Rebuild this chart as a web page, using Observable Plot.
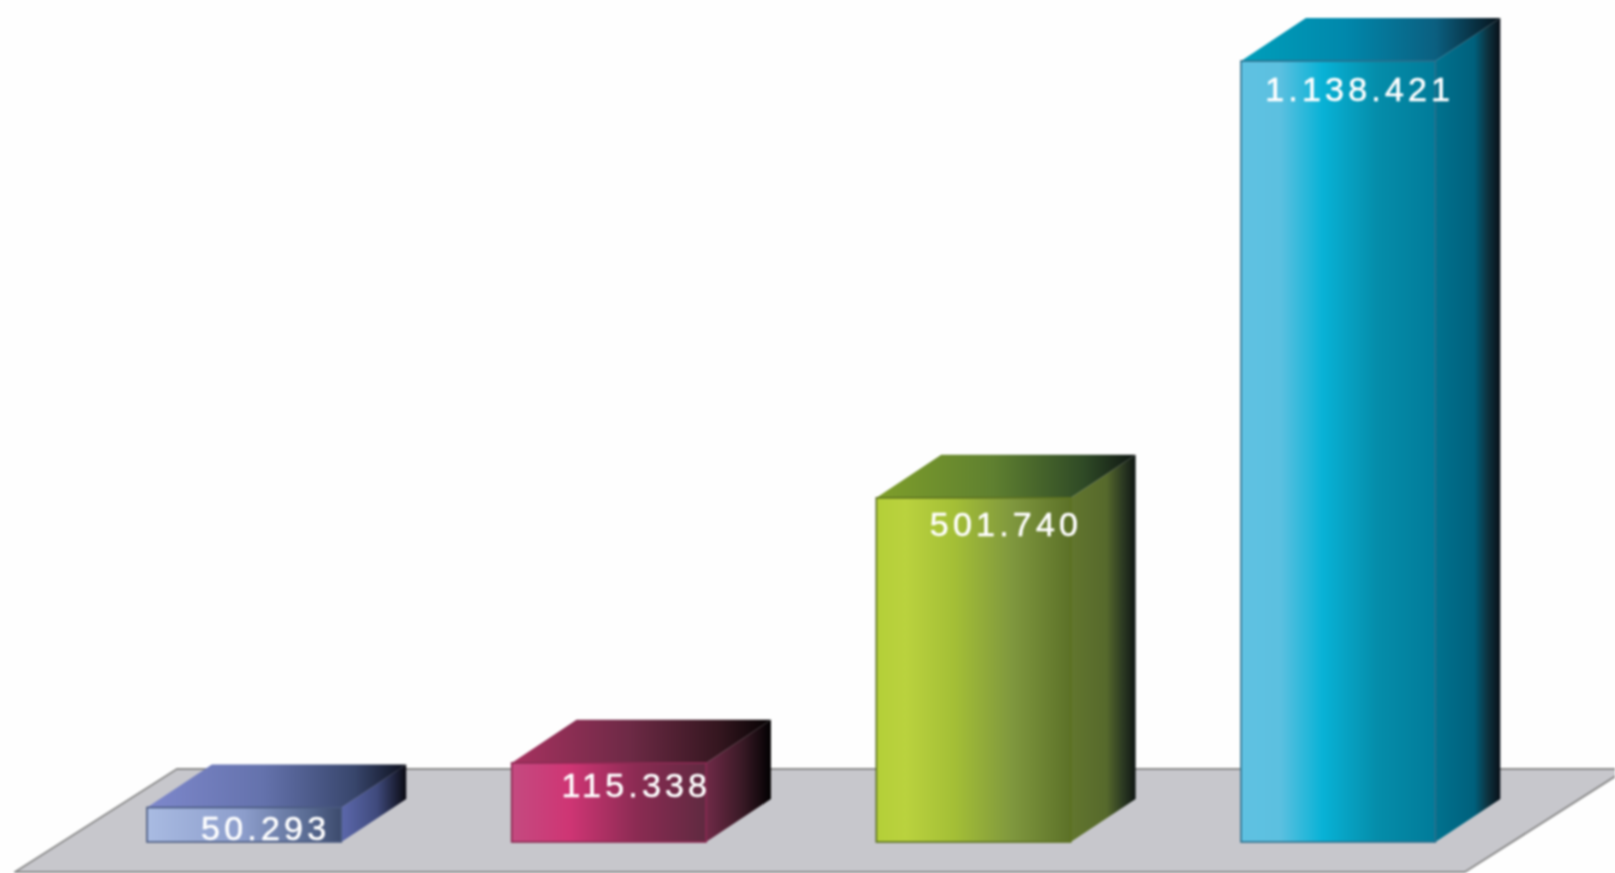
<!DOCTYPE html>
<html>
<head>
<meta charset="utf-8">
<script src="https://cdn.jsdelivr.net/npm/d3@7"></script>
<script src="https://cdn.jsdelivr.net/npm/@observablehq/plot@0.6"></script>
<style>
html,body{margin:0;padding:0;background:#fefefe;overflow:hidden}
svg{display:block}
</style>
</head>
<body>
<div id="chart"></div>
<script>
const values = [50293, 115338, 501740, 1138421];
const labels = ["50.293", "115.338", "501.740", "1.138.421"];
const slots = [0, 1, 2, 3];

const frontStops = [
  [[0,"#a9bbe2"],[0.5,"#8c9dcb"],[0.85,"#56688f"],[1,"#3c4a6c"]],
  [[0,"#c44a80"],[0.3,"#cf3574"],[0.65,"#8a2b52"],[1,"#5f2a40"]],
  [[0,"#b4cf38"],[0.15,"#bad23e"],[0.4,"#a4bf36"],[0.7,"#7f973e"],[1,"#5c7128"]],
  [[0,"#5fc2e2"],[0.2,"#5cc0e0"],[0.42,"#08b2d6"],[0.7,"#058daa"],[1,"#017b99"]]
];
const topStops = [
  [[0,"#7e88cc"],[0.45,"#6472ac"],[0.8,"#38466c"],[1,"#0c0f1c"]],
  [[0,"#a83260"],[0.45,"#6e2a46"],[0.8,"#34161f"],[1,"#050203"]],
  [[0,"#7f9f2a"],[0.45,"#5f8030"],[0.8,"#2f4a26"],[1,"#0e1512"]],
  [[0,"#009fbb"],[0.4,"#0088ac"],[0.75,"#0b5f80"],[1,"#07121a"]]
];
const sideStops = [
  [[0,"#5c68ac"],[0.55,"#3f4a7c"],[1,"#0a0a12"]],
  [[0,"#702a48"],[0.55,"#3a1a26"],[1,"#020102"]],
  [[0,"#62762e"],[0.55,"#56692c"],[0.8,"#2c3a22"],[1,"#0f1614"]],
  [[0,"#00728f"],[0.6,"#00607c"],[0.8,"#0d3340"],[1,"#090f18"]]
];
const edgeColors = ["#4a5a80", "#8a2a52", "#5b7020", "#2c6f8c"];
const labelShift = [[21, 21], [27, 23], [32, 27], [21, 29]];

// Layout of the pseudo-3D box, in scale units
const barWidth = 0.533, depthX = 0.178, depthY = 62700;
const floorFront = -43700, floorBack = 106400;
const floorXs = [-0.362, 0.082, 3.614, 4.058];

const defs = () => {
  const s = d3.create("svg:defs");
  [["front", frontStops], ["top", topStops], ["side", sideStops]].forEach(([name, stops]) =>
    stops.forEach((list, i) => {
      const g = s.append("linearGradient").attr("id", `${name}${i}`).attr("x1", 0).attr("x2", 1).attr("y1", 0).attr("y2", 0);
      list.forEach(([o, c]) => g.append("stop").attr("offset", o).attr("stop-color", c));
    })
  );
  return s.node();
};

const floor = [
  {x: floorXs[0], y1: floorFront, y2: floorFront},
  {x: floorXs[1], y1: floorFront, y2: floorBack},
  {x: floorXs[2], y1: floorFront, y2: floorBack},
  {x: floorXs[3], y1: floorBack, y2: floorBack}
];

const barMarks = values.flatMap((v, i) => {
  const l = slots[i], r = l + barWidth;
  const side = [
    {x: r, y1: 0, y2: v},
    {x: r + depthX, y1: depthY, y2: v + depthY}
  ];
  const top = [
    {x: l, y1: v, y2: v},
    {x: l + depthX, y1: v, y2: v + depthY},
    {x: r, y1: v, y2: v + depthY},
    {x: r + depthX, y1: v + depthY, y2: v + depthY}
  ];
  const box = [{l, r, base: 0, v, label: labels[i], mid: l + barWidth / 2}];
  return [
    Plot.area(side, {x1: "x", y1: "y1", y2: "y2", fill: `url(#side${i})`}),
    Plot.area(top, {x1: "x", y1: "y1", y2: "y2", fill: `url(#top${i})`}),
    Plot.rect(box, {x1: "l", x2: "r", y1: "base", y2: "v", fill: `url(#front${i})`, stroke: edgeColors[i], strokeWidth: 1.6}),
    Plot.text(box, {
      x: "mid", y: "v", text: "label",
      dx: labelShift[i][0], dy: labelShift[i][1],
      fill: "#ffffff", stroke: "#ffffff", strokeWidth: 0.5,
      fontSize: 34, fontFamily: "Liberation Sans",
      textAnchor: "middle", lineAnchor: "middle"
    })
  ];
});

const plot = Plot.plot({
  width: 1615,
  height: 873,
  margin: 0,
  style: {background: "#fefefe", overflow: "hidden", letterSpacing: "4.2px", filter: "blur(0.8px)"},
  x: {domain: [-0.403, 4.0255], range: [0, 1615], axis: null},
  y: {domain: [-45186, 1227340], range: [873, 0], axis: null},
  marks: [
    defs,
    Plot.area(floor, {x1: "x", y1: "y1", y2: "y2", fill: "#c7c7cc", stroke: "#8c8c8c", strokeWidth: 2}),
    ...barMarks
  ]
});
document.getElementById("chart").append(plot);
</script>
</body>
</html>
